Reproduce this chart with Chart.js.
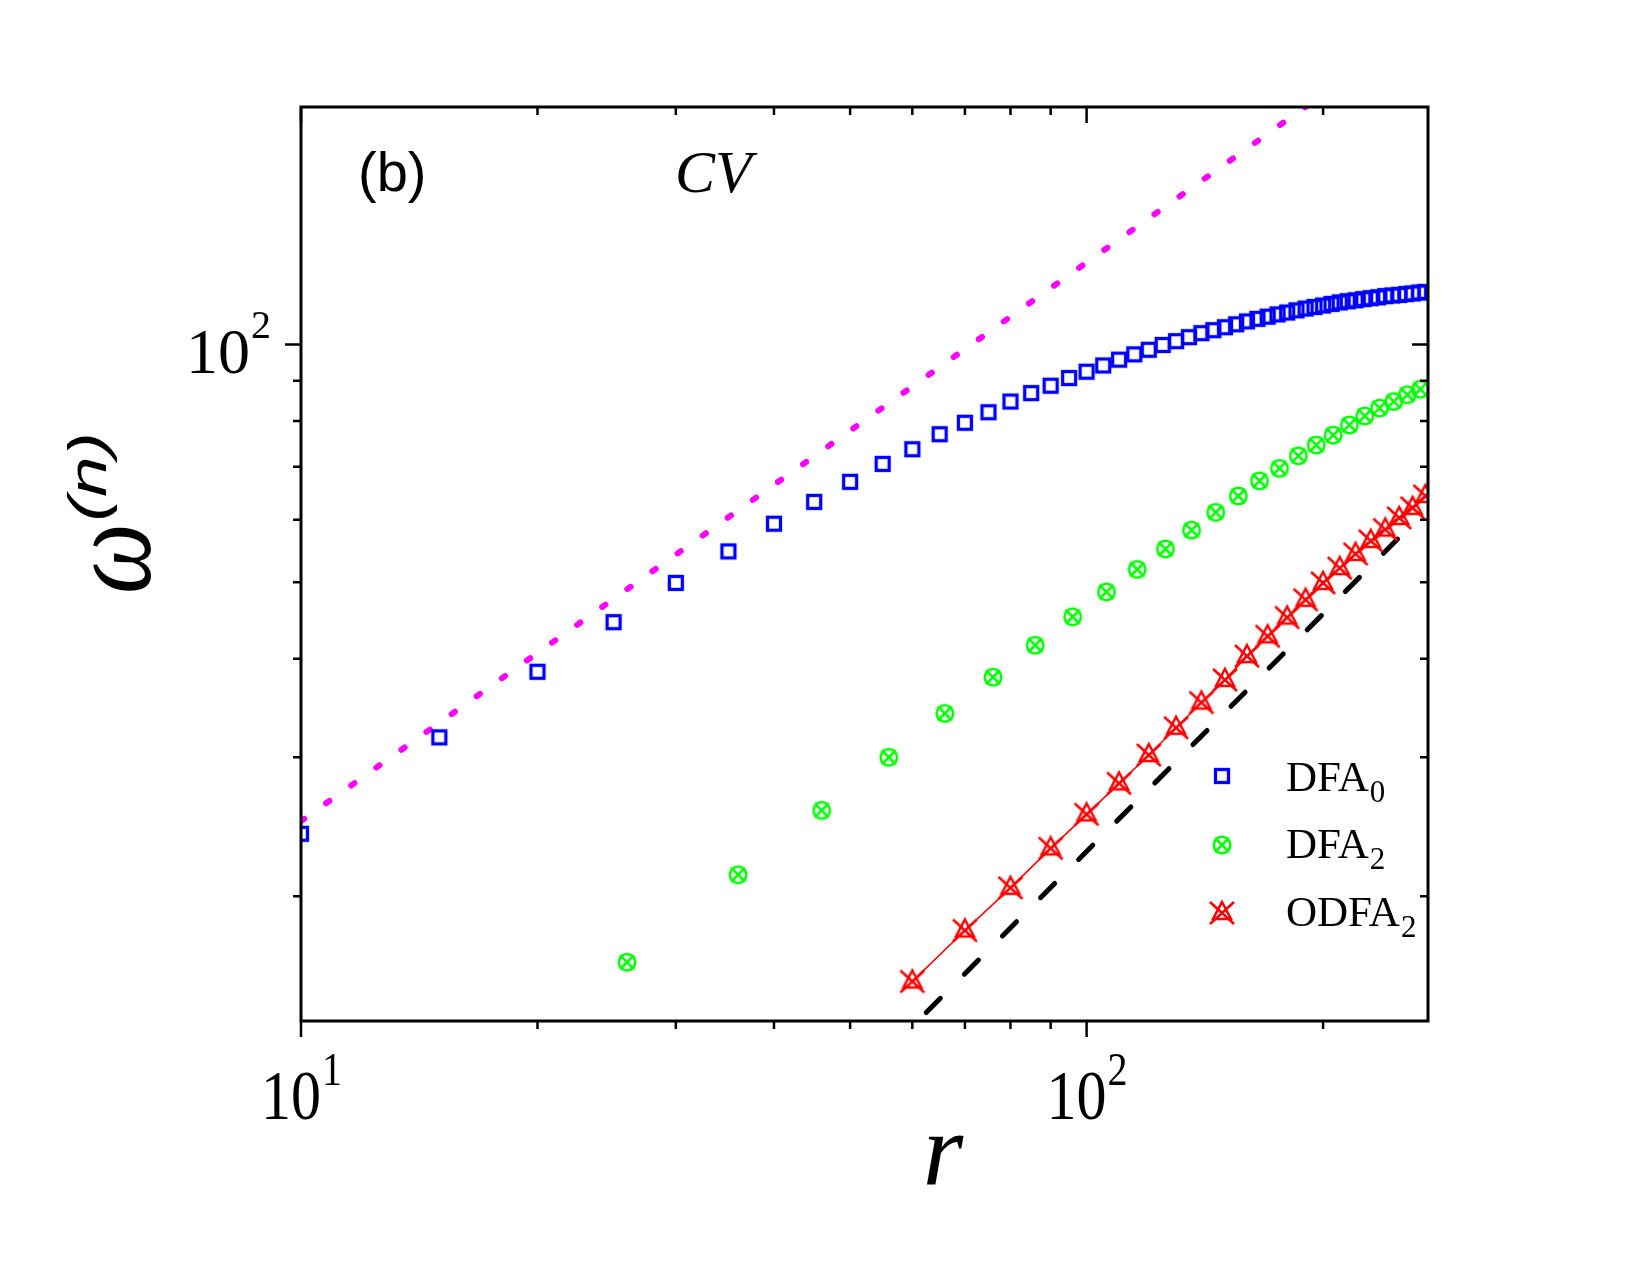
<!DOCTYPE html>
<html>
<head>
<meta charset="utf-8">
<script src="https://cdn.jsdelivr.net/npm/chart.js@4.4.1/dist/chart.umd.min.js"></script>
<style>
  body { margin: 0; background: #fff; }
  #wrap { width: 1650px; height: 1275px; }
</style>
</head>
<body>
<div id="wrap"><canvas id="chart" width="1650" height="1275"></canvas></div>
<script>
// DFA0 (blue squares)
const dfa0X = [10, 15, 20, 25, 30, 35, 40, 45, 50, 55, 60, 65, 70, 75, 80, 85, 90, 95, 100,
  105, 110, 115, 120, 125, 130, 135, 140, 145, 150, 155, 160, 165, 170, 175, 180, 185, 190, 195, 200,
  205, 210, 215, 220, 225, 230, 235, 240, 245, 250, 255, 260, 265, 270];
const dfa0Y = [24.0, 31.8, 38.5, 44.5, 49.9, 54.7, 59.3, 63.2, 67.0, 70.6, 73.7, 77.0, 79.6, 82.1, 84.7, 86.8, 88.7, 90.7, 92.4,
  94.1, 95.7, 97.2, 98.5, 99.9, 101.0, 102.2, 103.4, 104.3, 105.2, 106.1, 107.0, 107.8, 108.5, 109.2, 109.8, 110.5, 111.1, 111.6, 112.1,
  112.6, 113.1, 113.5, 113.8, 114.2, 114.5, 114.8, 115.2, 115.4, 115.6, 115.9, 116.1, 116.4, 116.6];

// DFA2 (green circled crosses)
const dfa2X = [26, 36, 46, 56, 66, 76, 86, 96, 106, 116, 126, 136, 146, 156, 166, 176, 186, 196, 206, 216, 226, 236, 246, 256, 266];
const dfa2Y = [16.5, 21.3, 25.7, 30.0, 34.1, 37.9, 41.6, 45.2, 48.6, 51.9, 55.1, 58.2, 61.3, 64.3, 67.2, 69.7, 72.3, 74.6, 76.8, 79.1, 81.2, 83.1, 84.7, 86.4, 87.8];

// ODFA2 (red triangles with crosses)
const odfa2X = [60, 70, 80, 90, 100, 110, 120, 130, 140, 150, 160, 170, 180, 190, 200, 210, 220, 230, 240, 250, 260, 270];
const odfa2Y = [15.6, 18.1, 20.5, 23.0, 25.4, 27.8, 30.2, 32.7, 35.2, 37.6, 40.3, 42.7, 45.1, 47.5, 49.9, 52.1, 54.3, 56.4, 58.3, 60.3, 62.1, 64.3];

// guide lines
const dotLineX = [10, 200];
const dotLineY = [24.9, 207.5];
const dashLineX = [62.5, 258];
const dashLineY = [14.25, 58.8];

// axes
const xRange = [10, 272];
const yRange = [13.9, 200];
const xMajorTicks = [10, 100];
const xMinorTicks = [20, 30, 40, 50, 60, 70, 80, 90, 200];
const yMajorTicks = [100];
const yMinorTicks = [20, 30, 40, 50, 60, 70, 80, 90];
const xTickLabels = [['10', '1'], ['10', '2']];
const yTickLabels = [['10', '2']];
const legendNames = [['DFA', '0'], ['DFA', '2'], ['ODFA', '2']];

const serif = '"Liberation Serif", "Times New Roman", serif';
const sans = '"Liberation Sans", Arial, sans-serif';

function toPoints(xs, ys) {
  return xs.map((x, i) => ({ x: x, y: ys[i] }));
}

// marker images
function makeSquare() {
  const c = document.createElement('canvas');
  c.width = 22; c.height = 22;
  const g = c.getContext('2d');
  g.strokeStyle = '#0000ff';
  g.lineWidth = 3.3;
  g.strokeRect(4.5, 4.5, 13, 13);
  return c;
}
function makeCircleX() {
  const c = document.createElement('canvas');
  c.width = 24; c.height = 24;
  const g = c.getContext('2d');
  g.strokeStyle = '#00ff00';
  g.lineWidth = 2.6;
  g.beginPath();
  g.arc(12, 12, 8.2, 0, Math.PI * 2);
  g.stroke();
  g.beginPath();
  g.moveTo(5, 5); g.lineTo(19, 19);
  g.moveTo(19, 5); g.lineTo(5, 19);
  g.stroke();
  return c;
}
function makeTriX() {
  const c = document.createElement('canvas');
  c.width = 30; c.height = 30;
  const g = c.getContext('2d');
  g.strokeStyle = '#ff0000';
  g.lineWidth = 2.5;
  g.beginPath();
  g.moveTo(15, 4); g.lineTo(24, 21); g.lineTo(6, 21); g.closePath();
  g.stroke();
  g.beginPath();
  g.moveTo(3, 4); g.lineTo(27, 26);
  g.moveTo(27, 4); g.lineTo(3, 26);
  g.stroke();
  return c;
}
const squareImg = makeSquare();
const circleXImg = makeCircleX();
const triXImg = makeTriX();

function drawPow(ctx, cx, baseY, base, exp, baseSize, expSize, rise, stretch) {
  ctx.save();
  ctx.font = baseSize + 'px ' + serif;
  const wb = ctx.measureText(base).width;
  ctx.font = expSize + 'px ' + serif;
  const we = ctx.measureText(exp).width;
  const x0 = cx - (wb + we) / 2;
  ctx.translate(0, baseY);
  ctx.scale(1, stretch);
  ctx.fillStyle = '#000';
  ctx.textAlign = 'left';
  ctx.textBaseline = 'alphabetic';
  ctx.font = baseSize + 'px ' + serif;
  ctx.fillText(base, x0, 0);
  ctx.font = expSize + 'px ' + serif;
  ctx.fillText(exp, x0 + wb + 1, -rise / stretch);
  ctx.restore();
}

const decorPlugin = {
  id: 'decor',
  afterDraw(chart) {
    const ctx = chart.ctx;
    const a = chart.chartArea;
    const xs = chart.scales.x, ys = chart.scales.y;
    ctx.save();
    ctx.strokeStyle = '#000';
    ctx.lineWidth = 3;
    ctx.strokeRect(a.left, a.top, a.right - a.left, a.bottom - a.top);

    ctx.lineWidth = 2.5;
    function tickX(v, len) {
      const px = xs.getPixelForValue(v);
      ctx.beginPath();
      ctx.moveTo(px, a.bottom); ctx.lineTo(px, a.bottom + len);
      ctx.moveTo(px, a.top); ctx.lineTo(px, a.top + len);
      ctx.stroke();
    }
    function tickY(v, len) {
      const py = ys.getPixelForValue(v);
      ctx.beginPath();
      ctx.moveTo(a.left, py); ctx.lineTo(a.left - len, py);
      ctx.moveTo(a.right, py); ctx.lineTo(a.right - len, py);
      ctx.stroke();
    }
    xMajorTicks.forEach(v => tickX(v, 16));
    xMinorTicks.forEach(v => tickX(v, 8));
    yMajorTicks.forEach(v => tickY(v, 16));
    yMinorTicks.forEach(v => tickY(v, 8));

    // tick labels
    xMajorTicks.forEach((v, i) => {
      const px = xs.getPixelForValue(v);
      drawPow(ctx, px, 1119, xTickLabels[i][0], xTickLabels[i][1], 60, 40, 34, 1.17);
    });
    yMajorTicks.forEach((v, i) => {
      const py = ys.getPixelForValue(v);
      ctx.save();
      ctx.font = '64px ' + serif;
      const wb = ctx.measureText(yTickLabels[i][0]).width;
      ctx.font = '40px ' + serif;
      const we = ctx.measureText(yTickLabels[i][1]).width;
      ctx.restore();
      drawPow(ctx, 270 - (wb + we) / 2, py + 28, yTickLabels[i][0], yTickLabels[i][1], 64, 40, 35, 1.0);
    });

    ctx.fillStyle = '#000';
    ctx.textBaseline = 'alphabetic';
    // axis titles
    ctx.font = 'italic 104px ' + serif;
    ctx.textAlign = 'center';
    ctx.fillText('r', 943, 1185);

    ctx.save();
    ctx.translate(150, 594);
    ctx.rotate(-Math.PI / 2);
    ctx.textAlign = 'left';
    ctx.save();
    ctx.scale(1, 1.2);
    ctx.font = 'italic 100px ' + serif;
    ctx.fillText('\u03c9', 0, 0);
    const ww = ctx.measureText('\u03c9').width;
    ctx.restore();
    ctx.save();
    ctx.translate(ww + 2, -44);
    ctx.scale(1.35, 1);
    ctx.font = 'italic 54px ' + sans;
    ctx.fillText('(n)', 0, 0);
    ctx.restore();
    ctx.restore();

    // panel label and title
    ctx.textAlign = 'left';
    ctx.font = '56px ' + sans;
    ctx.fillText('(b)', 358, 191);
    ctx.font = 'italic 60px ' + serif;
    ctx.fillText('CV', 675, 192);

    // legend
    const imgs = [squareImg, circleXImg, triXImg];
    const rowY = [776, 845, 913];
    const baseY = [791, 858, 926];
    legendNames.forEach((nm, i) => {
      const img = imgs[i];
      ctx.drawImage(img, 1222 - img.width / 2, rowY[i] - img.height / 2);
      ctx.font = '43px ' + serif;
      ctx.fillText(nm[0], 1286, baseY[i]);
      const w = ctx.measureText(nm[0]).width;
      ctx.font = '31px ' + serif;
      ctx.fillText(nm[1], 1286 + w + 1, baseY[i] + 11);
    });
    ctx.restore();
  }
};

new Chart(document.getElementById('chart').getContext('2d'), {
  type: 'scatter',
  data: {
    datasets: [
      {
        label: 'DFA0',
        data: toPoints(dfa0X, dfa0Y),
        pointStyle: squareImg,
        pointRadius: 8,
        showLine: false
      },
      {
        label: 'DFA2',
        data: toPoints(dfa2X, dfa2Y),
        pointStyle: circleXImg,
        pointRadius: 8,
        showLine: false
      },
      {
        label: 'ODFA2',
        data: toPoints(odfa2X, odfa2Y),
        pointStyle: triXImg,
        pointRadius: 8,
        showLine: true,
        borderColor: '#ff0000',
        borderWidth: 1.6
      },
      {
        label: 'fit dotted',
        data: toPoints(dotLineX, dotLineY),
        showLine: true,
        pointRadius: 0,
        borderColor: '#ff00ff',
        borderWidth: 6,
        borderDash: [4, 26.8],
        borderCapStyle: 'round',
        clip: 0
      },
      {
        label: 'fit dashed',
        data: toPoints(dashLineX, dashLineY),
        showLine: true,
        pointRadius: 0,
        borderColor: '#000000',
        borderWidth: 5,
        borderDash: [20, 34],
        borderCapStyle: 'round',
        clip: 0
      }
    ]
  },
  options: {
    responsive: false,
    animation: false,
    devicePixelRatio: 1,
    layout: { padding: { left: 301, right: 222, top: 107, bottom: 254 } },
    plugins: { legend: { display: false }, tooltip: { enabled: false } },
    scales: {
      x: { type: 'logarithmic', min: xRange[0], max: xRange[1], display: false },
      y: { type: 'logarithmic', min: yRange[0], max: yRange[1], display: false }
    }
  },
  plugins: [decorPlugin]
});
</script>
</body>
</html>
